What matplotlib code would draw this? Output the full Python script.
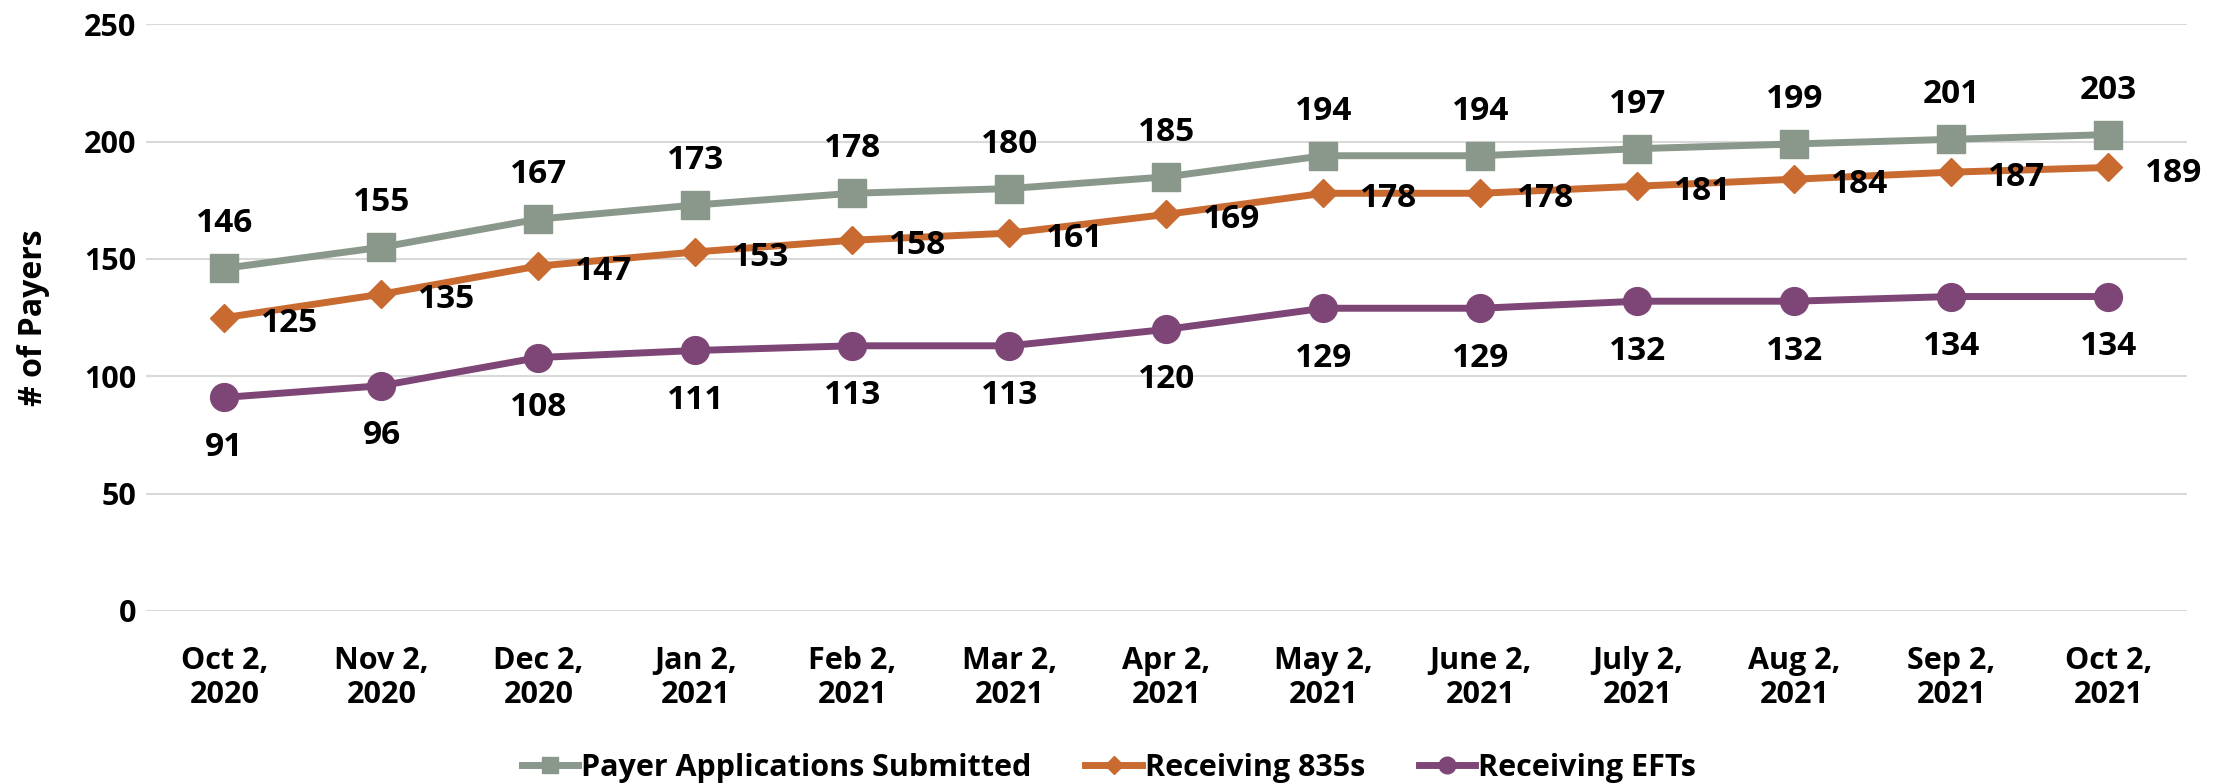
import matplotlib
matplotlib.use("Agg")
import matplotlib.pyplot as plt
from matplotlib.lines import Line2D

categories = ["Oct 2,\n2020", "Nov 2,\n2020", "Dec 2,\n2020", "Jan 2,\n2021", "Feb 2,\n2021",
              "Mar 2,\n2021", "Apr 2,\n2021", "May 2,\n2021", "June 2,\n2021", "July 2,\n2021",
              "Aug 2,\n2021", "Sep 2,\n2021", "Oct 2,\n2021"]
payer_apps = [146, 155, 167, 173, 178, 180, 185, 194, 194, 197, 199, 201, 203]
recv_835 = [125, 135, 147, 153, 158, 161, 169, 178, 178, 181, 184, 187, 189]
recv_eft = [91, 96, 108, 111, 113, 113, 120, 129, 129, 132, 132, 134, 134]
yticks = [0, 50, 100, 150, 200, 250]
series_names = ["Payer Applications Submitted", "Receiving 835s", "Receiving EFTs"]

c_gray = "#8A988C"
c_orange = "#C96A31"
c_purple = "#7E4677"

FONT = ["Open Sans", "DejaVu Sans"]
plt.rcParams["font.family"] = FONT

fig = plt.figure(figsize=(22.18, 7.84), dpi=100)
ax = fig.add_axes([0.0658, 0.2207, 0.9202, 0.7483])

x = list(range(len(categories)))
ax.plot(x, payer_apps, color=c_gray, lw=5, marker="s", ms=20, label=series_names[0], zorder=3)
ax.plot(x, recv_835, color=c_orange, lw=5, marker="D", ms=14, label=series_names[1], zorder=3)
ax.plot(x, recv_eft, color=c_purple, lw=5, marker="o", ms=20, label=series_names[2], zorder=3)

lab_font = dict(fontweight="bold", fontsize=24, color="black")
for i, v in enumerate(payer_apps):
    ax.annotate(str(v), (i, v), xytext=(0, 32), textcoords="offset points", ha="center", va="center", **lab_font)
for i, v in enumerate(recv_835):
    ax.annotate(str(v), (i, v), xytext=(47, -4), textcoords="offset points", ha="center", va="center", **lab_font)
for i, v in enumerate(recv_eft):
    ax.annotate(str(v), (i, v), xytext=(0, -36), textcoords="offset points", ha="center", va="center", **lab_font)

ax.set_xlim(-0.5, len(categories) - 0.5)
ax.set_ylim(0, 250)
ax.set_yticks(yticks)
ax.set_xticks(x)
ax.set_xticklabels(categories, fontsize=22, fontweight="bold", linespacing=1.2)
ax.set_yticklabels([str(t) for t in yticks], fontsize=22, fontweight="bold")
ax.tick_params(axis="both", length=0)
ax.tick_params(axis="y", pad=7)
ax.tick_params(axis="x", pad=25)
ax.grid(axis="y", color="#D9D9D9", lw=1.5)
ax.set_axisbelow(True)
for s in ax.spines.values():
    s.set_visible(False)

ax.set_ylabel("# of Payers", fontsize=23, fontweight="bold")
ax.yaxis.set_label_coords(-0.047, 0.5)

handles = [Line2D([], [], color=c_gray, lw=5, marker="s", ms=12),
           Line2D([], [], color=c_orange, lw=5, marker="D", ms=9),
           Line2D([], [], color=c_purple, lw=5, marker="o", ms=12)]
leg = fig.legend(handles, series_names,
                 loc="center", bbox_to_anchor=(0.5, 0.021), ncol=3, frameon=False,
                 prop=dict(weight="bold", size=22), handlelength=1.85,
                 handletextpad=0.1, columnspacing=1.75)

fig.savefig("out.png", dpi=100)
